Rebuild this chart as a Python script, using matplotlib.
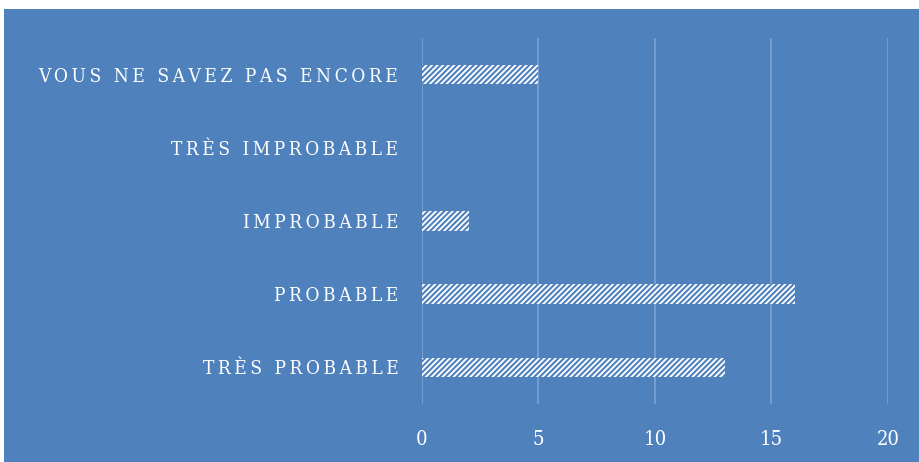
import matplotlib
matplotlib.use("Agg")
import matplotlib.pyplot as plt
from matplotlib.patches import Rectangle

# responses, listed bottom to top
categories = ["TRÈS PROBABLE", "PROBABLE", "IMPROBABLE", "TRÈS IMPROBABLE",
              "VOUS NE SAVEZ PAS ENCORE"]
counts = [13, 16, 2, 0, 5]
xticks = [0, 5, 10, 15, 20]

bg = "#4F81BD"
grid = "#7FA2D2"

plt.rcParams["hatch.linewidth"] = 1.5

fig = plt.figure(figsize=(9.2, 4.62), dpi=100, facecolor="white")
fig.patches.append(Rectangle((4 / 920, 0), 1, 1 - 9 / 462, transform=fig.transFigure,
                             facecolor=bg, edgecolor="none", zorder=-10))

ax = fig.add_axes([422 / 920, 1 - 404 / 462, 466 / 920, 366 / 462])
ax.set_facecolor(bg)
for s in ax.spines.values():
    s.set_visible(False)

ypos = range(len(categories))
ax.barh(ypos, counts, height=0.27, color="white", edgecolor=bg, hatch="//////",
        linewidth=0, zorder=3)

ax.set_xlim(0, 20)
ax.set_ylim(-0.5, len(categories) - 0.5)
ax.set_xticks(xticks)
ax.grid(axis="x", color=grid, linewidth=1.2, zorder=0)
ax.set_axisbelow(True)

font = dict(family=["DejaVu Serif", "Liberation Serif"], stretch="condensed")
spaced = ["\u2009".join(c) for c in categories]
ax.set_yticks(list(ypos))
ax.set_yticklabels(spaced, color="white", fontsize=13.8, **font)
ax.set_xticklabels([str(t) for t in xticks], color="white", fontsize=14.5, **font)
ax.tick_params(axis="y", length=0, pad=17)
ax.tick_params(axis="x", length=0, pad=19)

fig.savefig("out.png", dpi=100, facecolor="white")
